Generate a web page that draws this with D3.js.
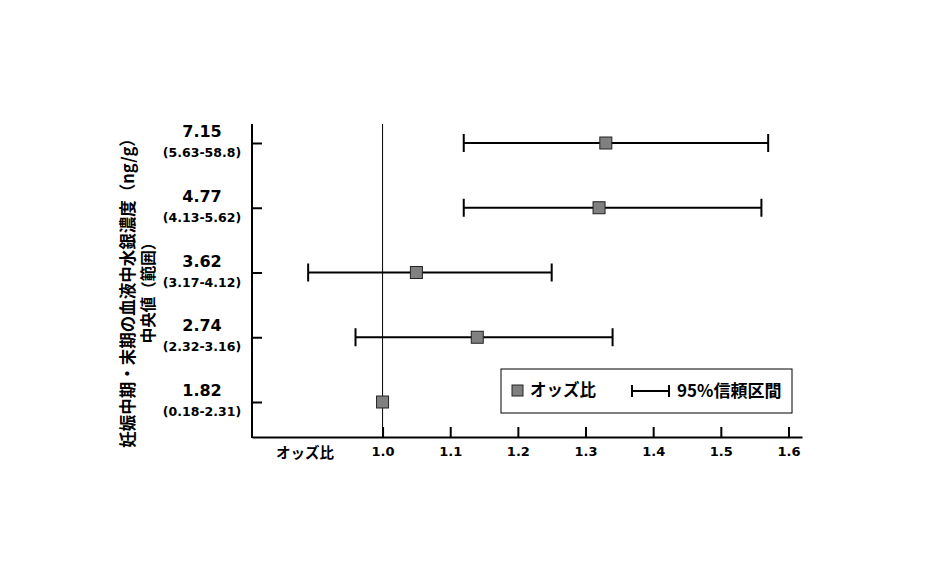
<!DOCTYPE html>
<html>
<head>
<meta charset="utf-8">
<script src="https://cdn.jsdelivr.net/npm/d3@7"></script>
<style>
html,body{margin:0;padding:0;background:#fff;}
svg{display:block;}
text{font-family:"DejaVu Sans","Noto Sans CJK JP",sans-serif;font-weight:bold;fill:#000;}
.jp{font-family:"Noto Sans CJK JP","DejaVu Sans",sans-serif;font-weight:bold;}
</style>
</head>
<body>
<svg id="chart" width="951" height="562"></svg>
<script>
const categories = ["7.15", "4.77", "3.62", "2.74", "1.82"];
const rangeLabels = ["(5.63-58.8)", "(4.13-5.62)", "(3.17-4.12)", "(2.32-3.16)", "(0.18-2.31)"];
const oddsRatio = [1.33, 1.32, 1.05, 1.14, 1.00];
const ciLow = [1.12, 1.12, 0.89, 0.96, null];
const ciHigh = [1.57, 1.56, 1.25, 1.34, null];
const xTicks = [1.0, 1.1, 1.2, 1.3, 1.4, 1.5, 1.6];
const yTitle1 = "妊娠中期・末期の血液中水銀濃度（ng/g）";
const yTitle2 = "中央値（範囲）";
const xStartLabel = "オッズ比";
const legendLabels = ["オッズ比", "95%信頼区間"];

const svg = d3.select("#chart");
const plotLeft = 252, plotRight = 802, plotTop = 124, plotBottom = 437;

const x = d3.scaleLinear().domain([0.807, 1.62]).range([plotLeft, plotRight]);
const y = d3.scalePoint().domain(categories).range([143, 402]);

// reference line at OR = 1
svg.append("line")
  .attr("x1", x(1)).attr("x2", x(1))
  .attr("y1", plotTop).attr("y2", plotBottom)
  .attr("stroke", "#000").attr("stroke-width", 1);

// bottom axis
const xAxis = svg.append("g")
  .attr("transform", `translate(0,${plotBottom})`)
  .call(d3.axisBottom(x).tickValues(xTicks).tickFormat(d3.format(".1f"))
        .tickSizeInner(-10).tickSizeOuter(0).tickPadding(10));
xAxis.attr("font-family", null).attr("font-size", null);
xAxis.select(".domain").attr("stroke-width", 2);
xAxis.selectAll(".tick line").attr("stroke-width", 2);
xAxis.selectAll(".tick text").attr("font-size", 13);

svg.append("text").attr("class", "jp")
  .attr("x", 305).attr("y", 458)
  .attr("text-anchor", "middle").attr("font-size", 14.5)
  .text(xStartLabel);

// left axis
const yAxis = svg.append("g")
  .attr("transform", `translate(${plotLeft},0)`)
  .call(d3.axisLeft(y).tickFormat("").tickSizeInner(-10).tickSizeOuter(0));
yAxis.select(".domain").remove();
yAxis.selectAll(".tick line").attr("stroke-width", 2);
svg.append("line")
  .attr("x1", plotLeft).attr("x2", plotLeft)
  .attr("y1", plotTop).attr("y2", plotBottom + 1)
  .attr("stroke", "#000").attr("stroke-width", 2);

// y tick labels (two lines)
categories.forEach((c, i) => {
  svg.append("text")
    .attr("x", 202).attr("y", y(c) - 6)
    .attr("text-anchor", "middle").attr("font-size", 16)
    .text(c);
  svg.append("text")
    .attr("x", 202).attr("y", y(c) + 14)
    .attr("text-anchor", "middle").attr("font-size", 12.5)
    .text(rangeLabels[i]);
});

// y title
const titleY = 289;
svg.append("text").attr("class", "jp")
  .attr("transform", `translate(134,${titleY}) rotate(-90)`)
  .attr("text-anchor", "middle").attr("font-size", 16.5)
  .text(yTitle1);
svg.append("text").attr("class", "jp")
  .attr("transform", `translate(154,${titleY}) rotate(-90)`)
  .attr("text-anchor", "middle").attr("font-size", 15.5)
  .text(yTitle2);

// error bars
const capH = 9;
categories.forEach((c, i) => {
  if (ciLow[i] == null) return;
  const g = svg.append("g").attr("stroke", "#000").attr("stroke-width", 2);
  const cy = y(c);
  g.append("line").attr("x1", x(ciLow[i])).attr("x2", x(ciHigh[i])).attr("y1", cy).attr("y2", cy);
  g.append("line").attr("x1", x(ciLow[i])).attr("x2", x(ciLow[i])).attr("y1", cy - capH).attr("y2", cy + capH);
  g.append("line").attr("x1", x(ciHigh[i])).attr("x2", x(ciHigh[i])).attr("y1", cy - capH).attr("y2", cy + capH);
});

// squares
const sq = 12;
svg.selectAll("rect.or").data(categories).join("rect")
  .attr("class", "or")
  .attr("x", (d, i) => x(oddsRatio[i]) - sq / 2)
  .attr("y", d => y(d) - sq / 2)
  .attr("width", sq).attr("height", sq)
  .attr("fill", "#808080").attr("stroke", "#222").attr("stroke-width", 1);

// legend
const lg = svg.append("g");
lg.append("rect").attr("x", 501).attr("y", 369).attr("width", 291).attr("height", 44)
  .attr("fill", "#fff").attr("stroke", "#000").attr("stroke-width", 1);
lg.append("rect").attr("x", 512).attr("y", 385).attr("width", 11).attr("height", 11)
  .attr("fill", "#808080").attr("stroke", "#222").attr("stroke-width", 1);
lg.append("text").attr("class", "jp").attr("x", 530).attr("y", 396)
  .attr("font-size", 16.5).text(legendLabels[0]);
const lgl = lg.append("g").attr("stroke", "#000").attr("stroke-width", 2);
lgl.append("line").attr("x1", 632).attr("x2", 669).attr("y1", 391).attr("y2", 391);
lgl.append("line").attr("x1", 632).attr("x2", 632).attr("y1", 385).attr("y2", 397);
lgl.append("line").attr("x1", 669).attr("x2", 669).attr("y1", 385).attr("y2", 397);
lg.append("text").attr("class", "jp").attr("x", 677).attr("y", 397)
  .attr("font-size", 17).text(legendLabels[1]);
</script>
</body>
</html>
